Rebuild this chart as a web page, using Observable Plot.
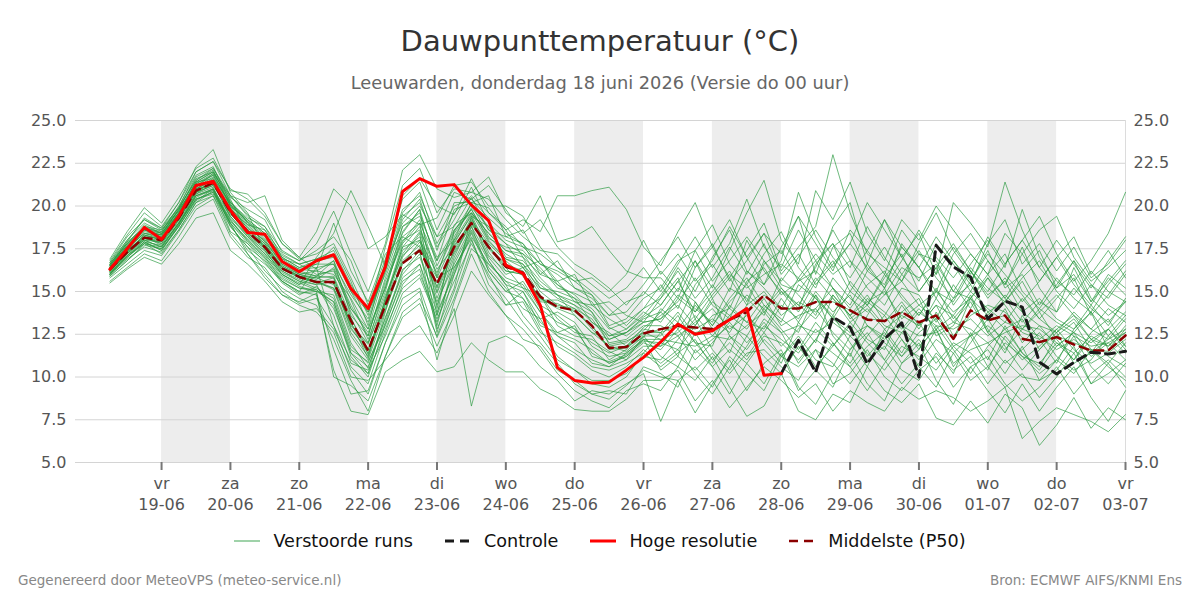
<!DOCTYPE html>
<html>
<head>
<meta charset="utf-8">
<script src="https://cdn.jsdelivr.net/npm/d3@7"></script>
<script src="https://cdn.jsdelivr.net/npm/@observablehq/plot@0.6"></script>
<style>
  body { margin: 0; background: #fff; font-family: "DejaVu Sans", sans-serif; }
  #wrap { position: relative; width: 1200px; height: 600px; overflow: hidden; background: #fff; }
  #title { position: absolute; top: 22px; left: 0; width: 1200px; text-align: center; font-size: 29px; line-height: 38px; color: #333; }
  #subtitle { position: absolute; top: 71px; left: 0; width: 1200px; text-align: center; font-size: 17.8px; line-height: 24px; color: #666; }
  #chart { position: absolute; top: 100px; left: 0; }
  #legend { position: absolute; top: 529px; left: 0; width: 1200px; display: flex; justify-content: center; align-items: center; font-size: 17.6px; line-height: 24px; color: #111; }
  #legend .item { display: flex; align-items: center; margin: 0 16px; }
  #legend svg { margin-right: 13px; }
  #footL { position: absolute; top: 571px; left: 18px; font-size: 13.5px; line-height: 18px; color: #888; }
  #footR { position: absolute; top: 571px; right: 18px; font-size: 13.5px; line-height: 18px; color: #888; }
</style>
</head>
<body>
<div id="wrap">
  <div id="title">Dauwpunttemperatuur (°C)</div>
  <div id="subtitle">Leeuwarden, donderdag 18 juni 2026 (Versie do 00 uur)</div>
  <div id="chart"></div>
  <div id="legend">
    <span class="item"><svg width="26" height="10"><line x1="0" x2="26" y1="5" y2="5" stroke="#2a9a40" stroke-opacity="0.6" stroke-width="1.5"/></svg><span>Verstoorde runs</span></span>
    <span class="item"><svg width="26" height="10"><line x1="0" x2="26" y1="5" y2="5" stroke="#1a1a1a" stroke-width="3" stroke-dasharray="9,6"/></svg><span>Controle</span></span>
    <span class="item"><svg width="26" height="10"><line x1="0" x2="26" y1="5" y2="5" stroke="#ff0000" stroke-width="3"/></svg><span>Hoge resolutie</span></span>
    <span class="item"><svg width="26" height="10"><line x1="0" x2="26" y1="5" y2="5" stroke="#8b0000" stroke-width="2.5" stroke-dasharray="9,6"/></svg><span>Middelste (P50)</span></span>
  </div>
  <div id="footL">Gegenereerd door MeteoVPS (meteo-service.nl)</div>
  <div id="footR">Bron: ECMWF AIFS/KNMI Ens</div>
</div>
<script>
// ---- data ----
const firstTime = "2026-06-18T06:00:00Z";   // 6-hourly steps
const stepHours = 6;
const domainStart = "2026-06-17T18:00:00Z";
const domainEnd = "2026-07-03T00:00:00Z";

const tickDates = ["2026-06-19","2026-06-20","2026-06-21","2026-06-22","2026-06-23","2026-06-24","2026-06-25","2026-06-26","2026-06-27","2026-06-28","2026-06-29","2026-06-30","2026-07-01","2026-07-02","2026-07-03"];
const tickDays = ["vr","za","zo","ma","di","wo","do","vr","za","zo","ma","di","wo","do","vr"];
const tickLabels = ["19-06","20-06","21-06","22-06","23-06","24-06","25-06","26-06","27-06","28-06","29-06","30-06","01-07","02-07","03-07"];
const bandDates = ["2026-06-19","2026-06-21","2026-06-23","2026-06-25","2026-06-27","2026-06-29","2026-07-01"];
const yTicks = [5, 7.5, 10, 12.5, 15, 17.5, 20, 22.5, 25];

const hres = [16.3, 17.5, 18.75, 18.05, 19.4, 21.2, 21.45, 19.75, 18.45, 18.35, 16.75, 16.15, 16.8, 17.15, 15.17, 14.0, 16.45, 20.85, 21.6, 21.15, 21.25, 20.05, 19.15, 16.55, 16.05, 14.2, 10.55, 9.8, 9.65, 9.7, 10.4, 11.15, 12.05, 13.1, 12.5, 12.7, 13.35, 14.0, 10.1, 10.2];

const control = [null,null,null,null,null,null,null,null,null,null,null,null,null,null,null,null,null,null,null,null,null,null,null,null,null,null,null,null,null,null,null,null,null,null,null,null,null,null,null,
  10.2, 12.14, 10.28, 13.5, 12.9, 10.77, 12.23, 13.17, 9.99, 17.7, 16.44, 15.85, 13.4, 14.44, 14.09, 10.87, 10.18, 10.85, 11.45, 11.35, 11.5];

const p50 = [16.3, 17.3, 18.15, 18.0, 19.3, 20.9, 21.35, 19.65, 18.5, 17.6, 16.35, 15.85, 15.55, 15.55, 13.3, 11.55, 14.2, 16.65, 17.4, 15.45, 17.6, 19.0, 17.6, 16.45, 16.1, 14.7, 14.1, 13.9, 13.0, 11.7, 11.75, 12.55, 12.8, 13.0, 12.9, 12.8, 13.35, 13.8, 14.78, 14.0, 14.0, 14.38, 14.38, 13.9, 13.35, 13.27, 13.8, 13.2, 13.6, 12.23, 13.9, 13.31, 13.6, 12.23, 12.04, 12.33, 11.9, 11.55, 11.55, 12.43];

const members = [
[16.0,17.0,17.8,17.6,19.0,20.5,21.0,19.2,18.0,17.0,15.8,15.2,15.0, 14.8,12.0,10.5,13.5,16.0,17.2,14.2,17.0,19.2,17.8, 16.8,15.9,14.2,13.6,12.8,11.4,10.8,11.2,12.0, 11.6,12.8,11.4,12.2,13.0,12.4,14.0,12.8,11.6,13.2,12.0,10.8,12.4,13.6,12.2,11.0,12.8,10.6,12.0,13.4,11.8,10.4,11.6,12.6,10.8,11.4,12.8,11.8],
[16.6,17.8,18.9,18.4,19.8,21.6,22.0,20.3,19.0,18.2,16.8,16.3,16.2, 16.8,14.5,12.2,15.0,18.5,19.8,16.5,18.5,20.1,18.2, 17.2,16.6,15.4,14.6,14.2,13.6,12.2,12.6,13.5, 14.2,15.6,13.8,15.0,16.2,14.4,16.8,15.2,14.0,16.6,17.8,15.4,14.2,15.8,17.2,15.0,16.4,14.2,15.6,17.2,16.0,14.8,13.4,14.6,15.8,13.6,14.8,16.2],
[16.2,17.2,18.0,17.9,19.2,21.0,21.5,19.5,18.6,17.8,16.5,15.9,15.8, 15.9,13.5,11.3,14.6,17.4,18.2,15.0,17.8,19.5,17.3, 16.0,16.4,14.8,13.0,12.4,12.2,11.5,11.0,12.4, 12.4,13.6,12.0,11.8,14.2,13.2,12.8,14.6,13.2,12.0,14.8,13.6,12.2,11.6,13.8,14.6,12.4,13.0,14.8,12.6,11.6,12.8,13.8,12.2,11.0,12.6,13.4,11.8],
[16.8,18.3,19.6,18.8,20.2,22.3,23.3,20.8,19.6,17.4,16.0,15.4,17.0, 18.4,20.9,18.8,16.5,20.6,21.6,20.0,19.5,21.6,19.6, 18.6,19.2,18.5,20.6,20.6,20.9,21.1,19.8,17.6, 16.5,18.5,20.2,17.6,15.8,17.4,19.0,16.2,17.6,18.8,23.0,19.6,17.2,16.4,15.6,17.2,16.8,15.0,16.6,18.0,16.4,19.8,17.0,15.6,14.8,16.2,15.0,14.4],
[15.8,16.6,17.4,17.1,18.5,20.0,20.6,18.8,17.6,16.2,15.2,14.6,14.2, 12.2,9.8,8.0,11.2,13.8,14.6,12.4,15.0,18.0,15.8, 14.6,13.2,12.0,10.8,9.6,9.0,8.7,9.5,10.4, 10.0,9.8,7.9,9.6,11.0,9.2,10.8,11.6,9.4,8.4,10.2,11.4,9.6,8.6,10.8,12.0,9.8,8.4,10.6,9.2,7.9,9.6,8.0,9.4,10.6,8.8,7.4,9.2],
[16.4,17.5,18.4,18.2,19.6,21.2,21.8,20.1,18.9,18.6,16.9,16.6,16.0, 16.2,14.0,12.8,16.2,19.4,20.2,17.6,19.2,21.1,19.0, 18.0,17.6,16.6,16.0,15.2,14.8,13.0,13.4,14.6, 15.2,16.8,17.4,18.9,16.6,15.4,17.2,18.5,16.4,15.2,17.6,18.4,16.2,15.4,17.6,16.4,14.6,16.8,15.6,17.4,15.2,16.0,14.2,15.8,14.6,13.8,15.4,16.6],
[16.1,17.1,17.9,17.4,18.9,20.6,20.9,18.5,17.8,16.7,15.5,14.8,15.3, 14.0,11.4,10.2,12.8,15.2,16.0,13.6,16.2,18.5,16.4, 15.2,14.0,13.4,11.8,11.2,10.4,10.0,10.6,11.6, 10.8,11.6,10.2,9.0,10.6,12.4,11.2,10.2,11.8,10.4,9.4,11.6,12.6,11.0,9.6,10.8,12.2,11.4,9.8,10.6,12.0,11.2,10.2,11.0,12.4,10.6,9.6,10.8],
[16.5,17.6,18.6,18.3,19.5,21.3,21.9,20.5,19.8,19.2,17.3,16.8,17.8, 19.7,17.2,15.0,17.8,22.1,23.0,21.0,20.5,20.8,21.7, 19.6,18.8,20.6,17.9,18.2,18.8,17.4,16.2,15.8, 15.8,14.6,16.8,15.2,17.4,19.6,21.5,18.0,16.6,20.9,19.2,21.4,18.4,16.8,19.2,18.0,20.0,18.6,17.2,16.0,18.4,17.2,15.6,17.0,18.2,16.0,17.4,15.8],
[16.3,17.4,18.2,17.8,19.1,20.7,21.1,19.0,17.2,15.8,14.8,14.2,13.8, 12.6,10.0,9.8,11.0,12.3,13.0,11.4,13.6,16.2,14.8, 13.6,12.8,11.6,10.2,9.2,8.6,8.2,9.2,9.6, 9.2,10.6,9.8,11.2,9.4,7.7,8.3,10.2,8.0,7.5,9.0,8.5,10.6,9.2,8.5,9.6,7.6,7.2,8.6,7.3,9.0,8.2,6.0,7.2,8.8,7.0,8.2,7.5],
[16.7,18.0,19.2,18.6,19.9,22.0,22.6,20.6,20.2,20.6,18.0,17.0,18.5, 21.0,20.0,17.5,18.2,19.5,18.9,19.3,21.2,21.4,20.0, 20.0,19.4,17.6,16.4,15.6,15.8,15.0,16.0,18.0, 16.0,17.2,15.6,16.8,18.8,17.0,15.4,16.8,20.8,18.2,16.4,17.8,20.2,18.6,17.0,18.4,16.0,20.2,19.0,17.6,21.4,18.6,16.4,18.0,16.6,15.2,16.8,18.2],
[16.2,17.3,18.3,18.1,19.4,20.8,21.2,19.8,18.4,17.5,16.2,15.7,15.4, 15.6,12.9,11.4,14.0,16.8,17.7,14.9,17.4,19.3,17.1, 16.2,16.0,14.6,14.0,13.6,12.6,11.8,12.0,12.8, 12.6,13.0,12.8,13.4,12.6,14.2,15.0,13.6,14.4,13.8,14.6,13.2,14.0,12.8,13.6,13.0,14.2,12.4,13.6,14.2,13.8,12.6,12.2,13.0,12.4,11.8,12.0,12.6],
[15.6,16.4,17.2,16.8,18.2,19.8,20.4,18.2,17.0,16.4,15.0,14.3,14.6, 13.0,10.4,9.0,12.0,14.6,15.2,12.3,14.6,17.5,16.6, 15.6,14.6,12.8,11.2,10.4,9.8,9.8,10.2,11.2, 11.0,12.2,13.4,11.6,10.4,11.8,13.4,12.6,10.8,12.2,13.6,12.0,10.6,12.8,11.4,13.2,11.6,10.2,12.6,11.0,13.0,11.4,10.6,12.4,13.2,11.6,10.8,12.0],
[16.4,17.7,18.8,18.6,19.7,21.4,21.6,19.9,18.7,18.0,16.6,16.1,15.9, 16.3,13.8,12.0,15.4,17.9,19.2,15.9,18.9,19.6,18.4, 17.4,17.0,15.2,15.0,14.6,13.2,12.6,11.8,12.9, 13.6,14.4,15.8,14.2,13.4,15.6,16.4,14.8,15.6,16.2,15.2,14.0,15.4,16.2,14.6,13.6,15.0,14.4,16.2,14.8,15.6,13.8,14.6,13.4,12.8,14.2,13.0,14.6],
[16.0,16.9,17.6,17.3,18.6,20.2,20.9,19.1,18.1,17.2,16.0,15.5,15.1, 14.2,11.2,10.0,13.1,15.6,16.3,13.0,16.8,18.8,17.0, 15.8,15.4,13.8,12.4,12.0,10.8,10.6,11.0,11.8, 11.8,12.4,11.0,12.0,13.2,12.0,13.2,11.8,12.8,14.0,12.6,11.6,13.0,12.0,11.2,12.6,13.4,11.8,12.4,13.0,12.2,11.0,11.8,12.8,11.6,10.8,11.4,12.2],
[16.6,18.0,19.0,18.5,20.0,21.8,22.3,20.2,19.3,18.8,17.0,16.4,16.6, 17.6,15.6,13.0,16.8,19.8,20.6,18.2,20.0,20.4,19.3, 18.4,17.8,16.0,15.6,14.4,14.2,13.4,12.8,13.6, 14.8,16.2,14.6,15.8,17.6,16.0,17.8,15.4,15.0,16.4,18.6,16.8,15.2,14.2,16.0,17.4,15.8,14.6,16.4,15.2,14.4,15.8,16.8,15.0,14.0,15.4,14.2,13.6],
[16.3,17.3,18.1,18.0,19.3,20.9,21.3,19.6,18.5,17.6,16.4,15.9,15.6, 15.1,12.4,11.0,13.9,16.6,17.9,15.5,17.3,19.0,17.6, 16.6,16.2,14.4,14.3,13.8,13.0,11.6,11.7,12.5, 12.8,13.0,12.6,12.8,13.4,13.9,14.8,14.0,14.0,14.4,14.4,13.9,13.4,13.3,13.8,13.2,13.6,12.2,13.9,13.3,13.6,12.3,12.0,12.4,12.0,11.6,11.5,12.4],
[15.9,16.8,17.7,17.5,18.8,20.3,21.0,18.9,17.4,16.6,15.6,15.0,14.8, 10.4,8.0,7.8,10.3,11.0,11.5,10.3,10.6,12.0,11.0, 10.3,10.3,9.3,8.8,8.1,8.0,8.0,8.7,9.8, 9.8,10.4,8.6,9.8,8.2,9.4,10.6,9.8,8.8,9.6,8.0,9.2,8.5,8.0,9.4,8.7,9.2,8.8,8.0,8.6,9.4,6.4,7.4,8.2,7.8,7.4,6.8,7.8],
[16.5,17.9,19.3,18.7,19.9,21.5,22.1,20.0,19.1,18.3,17.1,16.6,16.9, 17.2,15.0,13.8,16.0,18.8,19.4,17.0,18.0,20.2,18.6, 17.8,17.2,16.4,15.2,14.9,14.4,12.9,12.4,13.2, 13.4,14.8,14.0,13.2,15.2,14.6,13.6,15.8,14.8,13.6,15.8,14.6,13.8,14.8,15.6,14.2,13.4,15.4,14.0,15.8,14.6,13.2,14.4,13.8,15.2,14.0,13.2,14.4],
[16.2,17.2,18.1,17.8,19.2,20.9,21.4,19.3,18.2,17.4,16.1,15.6,15.2, 14.6,11.8,10.8,13.4,16.3,17.0,14.4,16.6,18.6,16.8, 15.4,15.0,13.4,13.8,13.2,11.8,11.2,11.4,12.2, 12.2,12.6,13.6,12.4,13.6,12.8,14.2,13.4,12.6,14.8,13.4,12.6,14.6,13.8,12.8,14.0,12.8,13.6,12.4,13.8,12.8,13.4,11.6,12.8,13.6,12.2,11.8,13.0],
[16.4,17.6,18.5,18.3,19.5,21.1,21.7,20.0,18.8,17.9,16.7,16.2,15.9, 15.8,13.1,11.9,14.8,17.1,18.0,16.1,18.4,19.8,18.0, 16.9,16.6,15.0,14.2,14.0,13.4,12.0,12.2,13.0, 13.0,12.4,13.2,14.0,12.8,13.6,12.6,14.2,13.4,15.0,13.8,14.8,13.0,12.4,14.2,12.8,14.6,13.2,14.4,12.6,14.0,12.0,13.0,11.8,12.6,12.0,12.8,11.6],
[16.1,17.0,17.9,17.7,19.0,20.6,21.0,19.4,18.3,17.3,16.2,15.6,15.4, 13.6,10.8,10.4,12.4,14.9,15.8,13.4,15.6,17.8,16.0, 14.2,14.4,12.6,12.0,11.4,10.6,10.4,10.8,11.4, 10.6,11.4,12.2,10.6,11.6,10.8,12.2,11.2,12.4,11.0,10.6,12.4,11.4,10.4,11.8,11.2,10.4,11.8,10.8,11.6,10.2,11.8,9.8,11.0,10.2,11.6,10.6,9.8],
[16.6,17.9,18.7,18.4,19.8,21.7,22.2,20.4,18.4,17.7,16.5,16.0,15.7, 16.4,14.2,12.4,15.6,18.0,18.6,16.3,17.6,19.1,17.5, 16.4,15.2,14.8,13.4,12.6,12.4,11.0,11.6,12.7, 13.8,15.2,14.4,13.0,14.6,15.8,14.2,13.2,15.4,14.6,13.6,15.6,14.4,13.6,15.2,14.8,13.2,14.6,15.4,13.8,14.4,15.6,13.8,14.8,13.6,12.8,14.0,13.2],
[16.0,17.1,18.0,17.6,19.0,20.4,20.7,19.0,18.0,17.1,15.9,15.3,15.0, 10.0,9.5,8.6,11.2,13.5,14.3,11.8,14.0,8.3,12.0, 12.4,11.8,10.6,9.8,8.6,9.2,9.0,9.6,10.2, 7.4,9.8,10.6,9.4,11.2,10.2,9.2,11.2,10.6,11.6,9.6,10.2,11.6,10.0,9.2,10.4,11.2,9.4,10.6,11.2,9.6,8.6,9.4,10.6,9.0,10.2,11.0,10.0],
[16.3,17.5,18.4,18.1,19.4,21.0,21.5,19.8,18.9,17.9,16.6,16.0,15.8, 15.4,13.4,11.6,14.3,17.2,18.5,15.2,17.9,19.4,18.8, 17.0,16.8,15.6,14.8,14.4,13.8,11.9,12.1,12.6, 12.6,13.8,12.4,13.6,14.0,13.2,14.6,13.0,13.6,14.0,15.2,13.4,14.2,13.0,12.6,13.8,13.0,12.8,13.4,12.4,13.2,12.8,12.4,11.6,12.2,11.4,12.2,12.8],
[16.9,18.5,19.9,19.0,20.5,22.2,22.8,20.9,20.7,19.6,17.8,17.0,16.3, 19.0,16.2,14.4,17.2,18.2,17.6,15.8,16.4,18.1,15.4, 14.2,15.0,13.0,12.6,13.0,11.2,10.9,11.3,12.1, 12.0,11.6,13.0,14.6,12.4,11.6,13.0,12.2,11.4,12.8,11.8,13.2,12.0,11.0,12.6,11.8,12.8,10.8,11.6,12.0,10.8,11.6,12.6,11.2,10.4,11.0,12.4,11.4],
[15.5,16.3,17.0,16.6,17.8,19.3,19.6,17.4,16.6,15.6,14.4,13.8,14.0, 12.8,10.6,9.6,12.6,15.4,16.6,13.8,16.0,18.4,16.2, 15.0,15.6,14.0,13.2,12.8,12.0,11.4,11.8,12.3, 14.0,13.2,15.4,16.6,15.0,18.0,16.2,15.0,13.8,15.6,16.8,15.0,16.6,19.2,17.0,15.6,17.8,16.6,15.0,16.8,15.4,17.6,15.2,13.8,16.4,14.4,16.0,15.2],
[16.4,17.4,18.3,18.0,19.3,20.9,21.4,19.7,18.6,17.7,16.3,15.9,15.6, 15.5,12.8,11.6,14.2,16.7,17.5,15.3,17.7,19.0,17.6, 16.5,16.1,14.6,14.1,13.9,13.0,11.7,11.8,12.6, 12.2,12.0,11.8,12.4,12.2,13.0,13.8,12.6,13.0,12.6,13.2,12.4,13.0,12.2,13.0,12.4,12.6,13.2,12.8,12.0,12.6,13.0,12.8,12.0,11.4,12.4,11.8,12.6],
[16.2,17.3,18.1,17.9,19.2,20.8,21.2,19.6,18.3,17.5,16.3,15.8,15.5, 15.2,13.2,11.1,14.4,17.6,18.0,14.6,17.2,18.9,17.7, 16.2,16.0,14.5,14.5,14.0,12.8,11.8,11.5,12.4, 11.2,10.6,12.6,11.0,12.0,11.0,12.4,12.0,11.0,12.2,11.4,10.6,11.8,12.6,11.2,12.2,10.8,12.0,11.4,10.4,12.4,11.2,10.8,12.0,11.0,12.2,11.2,10.6],
[16.5,17.7,18.6,18.3,19.6,21.3,21.8,20.1,19.1,18.1,16.9,16.3,16.4, 16.6,14.0,12.6,15.2,18.2,19.0,16.8,18.6,19.8,18.1, 17.6,17.4,16.2,15.4,14.6,14.0,12.8,13.2,14.0, 14.6,15.8,13.4,14.8,16.0,15.2,16.0,16.6,15.8,17.2,16.0,16.8,15.8,14.8,16.4,15.8,16.6,15.0,14.6,16.0,17.2,15.0,14.0,15.4,16.8,14.6,13.6,14.4],
[16.1,17.1,17.8,17.5,18.8,20.4,20.8,19.2,17.9,17.0,15.7,15.2,15.1, 14.4,11.6,10.9,13.0,15.8,16.6,13.2,16.4,18.2,16.6, 15.6,15.2,13.8,12.6,12.2,11.6,10.8,11.2,12.2, 10.4,11.2,10.4,11.4,10.2,11.4,11.6,10.6,9.8,11.6,10.8,9.6,11.0,11.8,10.4,9.8,11.4,10.4,11.2,9.6,11.0,10.0,9.8,10.4,11.8,9.6,10.2,11.0],
[16.5,17.8,18.8,18.4,19.7,21.4,22.0,20.6,19.5,18.8,17.4,16.8,17.4, 18.2,16.8,14.2,16.9,20.4,21.4,18.6,20.8,20.4,21.2, 19.8,18.4,19.2,17.6,16.6,16.0,15.2,14.2,15.4, 16.8,18.2,16.4,17.6,19.2,17.0,18.4,17.2,19.4,17.8,16.2,18.6,17.4,19.2,17.6,16.4,18.2,16.8,15.4,17.8,19.2,16.6,17.8,16.2,17.6,15.8,16.6,18.0],
[16.3,17.6,18.4,18.3,19.8,21.1,21.9,20.0,19.2,18.4,17.0,16.4,16.8, 17.0,15.0,13.2,16.4,19.6,20.8,17.8,19.6,20.6,19.6, 18.8,17.6,17.2,16.4,15.8,15.0,14.0,13.0,14.0, 15.4,14.0,16.4,17.8,15.6,16.8,18.4,16.0,17.2,15.4,16.6,17.8,16.4,15.2,16.8,18.6,17.0,15.8,17.2,16.0,14.6,16.2,17.4,15.2,16.0,14.4,15.6,16.8],
[16.0,17.2,18.2,17.7,19.0,20.7,21.3,19.4,18.2,17.2,16.0,15.4,15.9, 16.8,13.6,12.4,15.8,18.4,19.8,14.0,18.2,19.9,18.8, 17.8,16.4,16.8,15.4,14.8,13.8,12.4,12.8,13.8, 13.2,14.6,13.8,15.4,14.0,16.2,15.2,14.0,15.8,14.6,13.4,15.0,14.2,16.0,14.8,13.6,15.2,13.4,14.6,15.8,14.2,12.8,14.0,13.2,12.6,13.8,12.4,13.6],
[16.2,17.4,18.0,17.6,18.9,20.6,21.0,18.8,17.6,16.8,15.6,15.0,16.4, 13.0,11.0,10.2,13.8,17.0,18.4,12.8,15.2,19.4,16.8, 15.4,13.6,12.4,11.0,10.4,9.6,9.4,10.0,11.4, 12.6,11.2,14.4,12.8,11.4,13.8,12.0,10.8,13.2,14.8,12.4,11.2,13.6,15.2,13.0,11.6,13.8,12.2,14.6,12.8,11.4,13.6,12.2,10.8,12.8,13.8,11.6,12.8],
[16.7,18.2,19.2,18.7,20.2,22.0,22.6,21.0,20.4,19.4,17.8,16.9,17.2, 17.8,15.8,13.6,17.6,21.2,22.2,19.6,21.0,20.8,20.4, 19.2,18.2,17.4,17.2,16.2,15.4,14.6,15.2,16.4, 15.0,16.6,18.2,16.4,17.8,20.4,17.6,16.4,18.6,16.8,17.8,16.4,18.8,17.0,15.6,17.8,19.6,17.4,16.0,18.2,16.6,18.0,19.4,17.2,15.6,16.8,18.4,20.8],
[16.4,17.4,18.6,18.2,19.6,21.0,21.6,20.2,19.0,18.0,16.8,16.0,16.2, 16.0,14.6,12.8,15.2,18.8,19.6,16.8,19.8,20.2,19.9, 18.6,17.0,16.0,16.8,15.2,14.6,13.6,13.8,15.0, 14.2,15.6,16.8,14.6,15.8,14.2,16.6,17.4,15.6,16.8,15.2,14.2,16.2,17.6,16.0,15.0,16.4,17.8,16.2,14.6,15.8,14.4,15.6,17.0,15.4,14.2,15.8,14.8],
[16.1,17.3,18.3,18.0,19.4,20.9,21.4,19.9,18.7,17.8,16.4,15.8,15.6, 15.2,12.6,11.2,14.6,17.8,19.0,13.6,18.6,19.6,18.4, 17.4,17.2,15.8,14.8,13.6,12.6,12.2,12.6,13.4, 13.8,12.8,14.2,13.0,14.4,15.4,13.8,15.0,14.2,15.8,14.6,13.6,14.8,13.2,14.4,13.0,14.2,13.6,15.0,14.0,13.2,14.6,13.4,12.6,13.8,12.8,12.2,13.4],
[15.9,16.8,17.8,17.2,18.6,20.2,20.6,18.4,17.2,16.0,14.8,14.4,14.9, 11.6,9.0,9.2,12.0,14.2,15.0,11.0,14.4,17.2,15.0, 13.6,12.2,11.8,10.4,9.8,9.0,9.2,9.0,10.6, 10.2,9.4,11.6,10.6,9.0,10.8,9.6,11.4,9.2,10.4,12.0,10.6,9.2,10.8,12.2,10.6,9.4,11.4,12.4,10.6,9.4,10.2,8.8,10.0,11.4,9.6,10.8,9.4],
[16.6,17.8,18.7,18.5,19.9,21.5,22.2,20.6,19.4,18.6,17.2,16.6,16.9, 17.4,15.4,13.8,16.2,19.2,20.4,17.4,20.2,20.2,20.6, 18.2,18.6,16.8,15.6,16.0,14.2,14.4,13.6,13.2, 14.6,16.4,15.0,17.0,18.6,16.2,15.4,17.6,19.4,16.0,18.8,20.2,16.6,15.2,17.8,16.4,15.0,17.2,18.4,16.8,15.4,17.2,18.6,19.4,17.0,15.6,16.4,17.4],
[16.3,17.4,18.2,18.1,19.3,20.8,21.4,19.6,18.4,17.6,16.4,15.9,15.5, 15.8,13.0,12.0,14.4,17.6,18.8,15.8,18.0,19.6,17.9, 16.9,16.4,15.2,14.8,14.2,13.2,12.4,12.6,13.2, 13.4,14.2,13.0,14.4,13.6,14.8,14.0,15.2,14.2,13.4,14.8,13.6,14.4,15.0,13.4,14.2,15.0,13.8,14.6,13.6,14.8,13.8,13.0,12.6,13.4,12.2,12.8,13.8],
[16.0,17.0,17.9,17.4,18.8,20.4,20.8,19.0,17.8,16.9,15.6,14.9,15.0, 14.4,11.4,10.6,13.2,16.2,17.4,12.6,16.0,18.8,16.2, 15.0,14.6,13.2,12.4,11.6,11.0,10.6,11.4,12.2, 11.8,13.2,12.0,10.8,12.4,11.2,12.6,11.2,12.2,10.6,11.8,13.0,11.2,12.4,10.8,11.6,13.0,11.6,10.2,11.8,12.8,11.4,10.4,11.8,12.6,11.2,12.0,11.0],
[16.5,17.7,18.6,18.4,19.6,21.4,22.0,20.2,19.2,18.4,16.8,16.2,16.6, 16.6,14.8,13.4,16.6,19.0,20.0,18.2,18.8,20.5,18.6, 18.2,17.8,16.6,16.2,15.6,14.8,13.6,14.4,14.8, 16.2,15.0,17.4,15.6,16.8,18.2,16.8,15.6,17.0,18.6,17.0,15.8,17.4,16.0,18.6,17.2,16.0,17.6,16.2,15.0,16.6,18.0,16.4,15.2,16.8,15.4,14.6,16.0]
];

// ---- build tables ----
const t0 = new Date(firstTime).getTime();
const STEP = stepHours * 3600 * 1000;
const DAY = 24 * 3600 * 1000;
const timeAt = i => new Date(t0 + i * STEP);
const toRows = arr => arr.map((v, i) => ({t: timeAt(i), v})).filter(d => d.v != null);

const ensRows = members.flatMap((arr, m) => arr.map((v, i) => ({t: timeAt(i), v, m})));
const hresRows = toRows(hres);
const ctrlRows = toRows(control);
const p50Rows = toRows(p50);

const tickTimes = tickDates.map(d => new Date(d + "T00:00:00Z"));
const labelMap = new Map(tickTimes.map((d, i) => [+d, tickDays[i] + "\n" + tickLabels[i]]));
const bands = bandDates.map(d => new Date(d + "T00:00:00Z"));
const xStart = new Date(domainStart), xEnd = new Date(domainEnd);

const chart = Plot.plot({
  width: 1200,
  height: 420,
  marginLeft: 75,
  marginRight: 75,
  marginTop: 20,
  marginBottom: 58,
  style: {fontFamily: "DejaVu Sans", fontSize: "16px", color: "#555", background: "transparent"},
  x: {type: "utc", domain: [xStart, xEnd], label: null},
  y: {domain: [5, 25], label: null},
  marks: [
    Plot.rect(bands, {x1: d => d, x2: d => new Date(+d + DAY), fill: "#ededed"}),
    Plot.gridY({ticks: yTicks, stroke: "#d4d4d4", strokeOpacity: 1, strokeWidth: 1}),
    Plot.ruleX([xEnd], {stroke: "#dcdcdc", strokeWidth: 1}),
    Plot.line(ensRows, {x: "t", y: "v", z: "m", stroke: "#2a9a40", strokeOpacity: 0.68, strokeWidth: 1}),
    Plot.line(p50Rows, {x: "t", y: "v", stroke: "#8b0000", strokeWidth: 2.5, strokeDasharray: "9,6"}),
    Plot.line(ctrlRows, {x: "t", y: "v", stroke: "#1a1a1a", strokeWidth: 3, strokeDasharray: "9,6"}),
    Plot.line(hresRows, {x: "t", y: "v", stroke: "#ff0000", strokeWidth: 3}),
    Plot.axisX({ticks: tickTimes, tickFormat: d => labelMap.get(+d), tickSize: 8, tickPadding: 4, stroke: "#777", strokeWidth: 2, lineHeight: 1.3, fill: "#555", fontSize: 16, label: null}),
    Plot.axisY({anchor: "left", ticks: yTicks, tickFormat: d => d.toFixed(1), tickSize: 0, tickPadding: 9, fill: "#555", fontSize: 16, label: null}),
    Plot.axisY({anchor: "right", ticks: yTicks, tickFormat: d => d.toFixed(1), tickSize: 0, tickPadding: 8, fill: "#555", fontSize: 16, label: null})
  ]
});
document.getElementById("chart").appendChild(chart);
</script>
</body>
</html>
